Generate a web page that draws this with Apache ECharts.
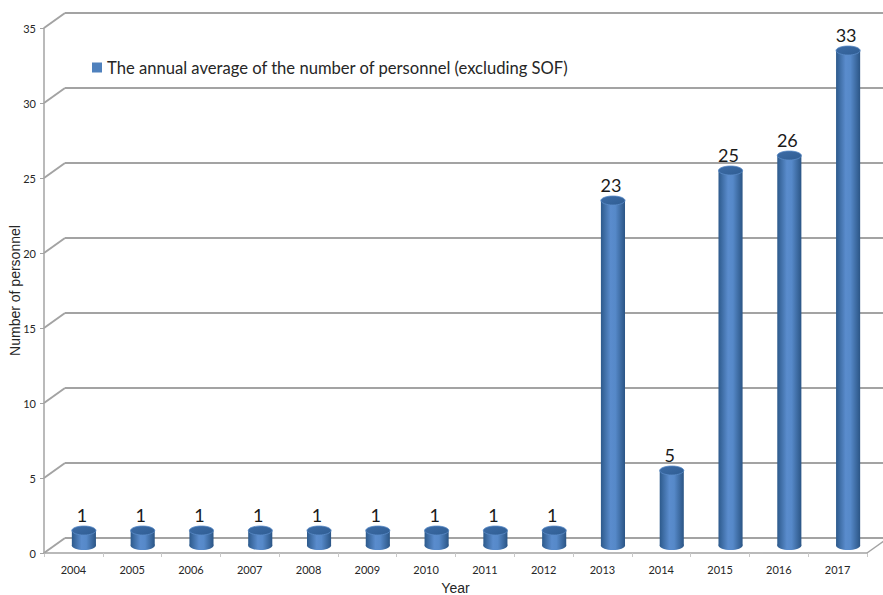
<!DOCTYPE html>
<html>
<head>
<meta charset="utf-8">
<script src="https://cdn.jsdelivr.net/npm/echarts@6/dist/echarts.min.js"></script>
<style>
  html, body { margin: 0; padding: 0; background: #fff; }
  #chart { width: 883px; height: 595px; }
</style>
</head>
<body>
<div id="chart"></div>
<script>
// Annual average personnel count per year
const years = ['2004', '2005', '2006', '2007', '2008', '2009', '2010',
               '2011', '2012', '2013', '2014', '2015', '2016', '2017'];
const personnel = [1, 1, 1, 1, 1, 1, 1, 1, 1, 23, 5, 25, 26, 33];
const seriesName = 'The annual average of the number of personnel (excluding SOF)';
const yTicks = [0, 5, 10, 15, 20, 25, 30, 35];

// Pseudo-3D depth of the plot box (back wall offset from the front plane)
const DX = 21, DY = 15;
const FRONT = { left: 44, right: 16, top: 28, bottom: 42 };
const MID = { left: FRONT.left + DX / 2, right: FRONT.right - DX / 2, top: FRONT.top - DY / 2, bottom: FRONT.bottom + DY / 2 };
const BACK = { left: FRONT.left + DX, right: FRONT.right - DX, top: FRONT.top - DY, bottom: FRONT.bottom + DY };
const gridOf = (g) => Object.assign({ containLabel: false, outerBoundsMode: 'none' }, g);

const GRID_COLOR = '#a3a3a3';
const TEXT_COLOR = '#262626';
const FONT = 'Lato, "Open Sans", sans-serif';

const bodyGradient = () => new echarts.graphic.LinearGradient(0, 0, 1, 0, [
  { offset: 0, color: '#2d5a8c' },
  { offset: 0.4, color: '#5a8ccd' },
  { offset: 0.6, color: '#5689c9' },
  { offset: 1, color: '#2b5585' }
]);

const chart = echarts.init(document.getElementById('chart'), null, { renderer: 'svg' });

chart.setOption({
  animation: false,
  backgroundColor: '#ffffff',
  legend: {
    left: 92, top: 59, padding: 0,
    icon: 'rect', itemWidth: 10, itemHeight: 10, itemGap: 5,
    textStyle: { fontFamily: FONT, fontSize: 16.6, color: TEXT_COLOR },
    data: [{ name: seriesName, itemStyle: { color: '#4f81bd' } }]
  },
  grid: [gridOf(FRONT), gridOf(MID), gridOf(BACK)],
  xAxis: [
    {
      gridIndex: 0, type: 'category', data: years,
      axisLine: { show: true, lineStyle: { color: GRID_COLOR, width: 1.5 } },
      axisTick: { show: true, length: 4, lineStyle: { color: '#c8c8c8' } },
      axisLabel: { fontFamily: FONT, fontSize: 11, color: TEXT_COLOR, margin: 11 },
      name: 'Year', nameLocation: 'middle', nameGap: 28,
      nameTextStyle: { fontFamily: '"Liberation Sans", Arial, sans-serif', fontSize: 14, color: TEXT_COLOR }
    },
    { gridIndex: 1, type: 'category', data: years, show: false },
    { gridIndex: 2, type: 'category', data: years, show: false }
  ],
  yAxis: [
    {
      gridIndex: 0, type: 'value', min: 0, max: 35, interval: 5,
      axisLine: { show: true, lineStyle: { color: GRID_COLOR, width: 1.5 } },
      axisTick: { show: true, length: 4, lineStyle: { color: GRID_COLOR } },
      splitLine: { show: false },
      axisLabel: { fontFamily: FONT, fontSize: 11, color: TEXT_COLOR, margin: 8 },
      name: 'Number of personnel', nameLocation: 'middle', nameGap: 22,
      nameMoveOverlap: false,
      nameTextStyle: { fontFamily: '"Liberation Sans", Arial, sans-serif', fontSize: 14, color: TEXT_COLOR }
    },
    { gridIndex: 1, type: 'value', min: 0, max: 35, interval: 5, show: false },
    {
      gridIndex: 2, type: 'value', min: 0, max: 35, interval: 5,
      axisLine: { show: false }, axisTick: { show: false }, axisLabel: { show: false },
      splitLine: { show: true, lineStyle: { color: GRID_COLOR, width: 2 } }
    }
  ],
  series: [
    {
      // Side-wall diagonals joining the front axis ticks to the back wall gridlines
      type: 'custom', xAxisIndex: 0, yAxisIndex: 0, silent: true,
      data: yTicks.map(v => [0, v]),
      renderItem: (params, api) => {
        const cs = params.coordSys;
        const y = api.coord([0, api.value(1)])[1];
        const children = [{
          type: 'line',
          shape: { x1: cs.x, y1: y, x2: cs.x + DX, y2: y - DY },
          style: { stroke: GRID_COLOR, lineWidth: 2 }
        }];
        if (api.value(1) === 0) {
          children.push({
            type: 'line',
            shape: { x1: cs.x + cs.width, y1: y, x2: cs.x + cs.width + DX, y2: y - DY },
            style: { stroke: GRID_COLOR, lineWidth: 1.5 }
          });
        }
        return { type: 'group', children };
      },
      z: 1
    },
    {
      // Cylinder columns on the mid-depth plane
      name: seriesName,
      type: 'custom', xAxisIndex: 1, yAxisIndex: 1,
      itemStyle: { color: '#4f81bd' },
      data: personnel.map((v, i) => [i, v]),
      renderItem: (params, api) => {
        const i = api.value(0), v = api.value(1);
        const top = api.coord([i, v]);
        const base = api.coord([i, 0]);
        const w = api.size([1, 0])[0] * 0.41;
        const rx = w / 2, ry = 4.5;
        const x0 = top[0] - rx;
        return {
          type: 'group',
          children: [
            {
              type: 'ellipse',
              shape: { cx: base[0], cy: base[1], rx, ry },
              style: { fill: bodyGradient() }
            },
            {
              type: 'rect',
              shape: { x: x0, y: top[1], width: w, height: base[1] - top[1] },
              style: { fill: bodyGradient() }
            },
            {
              type: 'ellipse',
              shape: { cx: top[0], cy: top[1], rx, ry },
              style: {
                fill: new echarts.graphic.LinearGradient(0, 0, 1, 1, [
                  { offset: 0, color: '#3d6ca6' },
                  { offset: 1, color: '#2f5d93' }
                ]),
                stroke: '#5a8bc8', lineWidth: 0.8
              }
            },
            {
              type: 'text',
              style: {
                text: String(v),
                x: top[0] - 2, y: top[1] - 16,
                align: 'center', verticalAlign: 'middle',
                font: '18px ' + FONT, fill: '#1a1a1a'
              }
            }
          ]
        };
      },
      z: 3
    }
  ]
});
</script>
</body>
</html>
